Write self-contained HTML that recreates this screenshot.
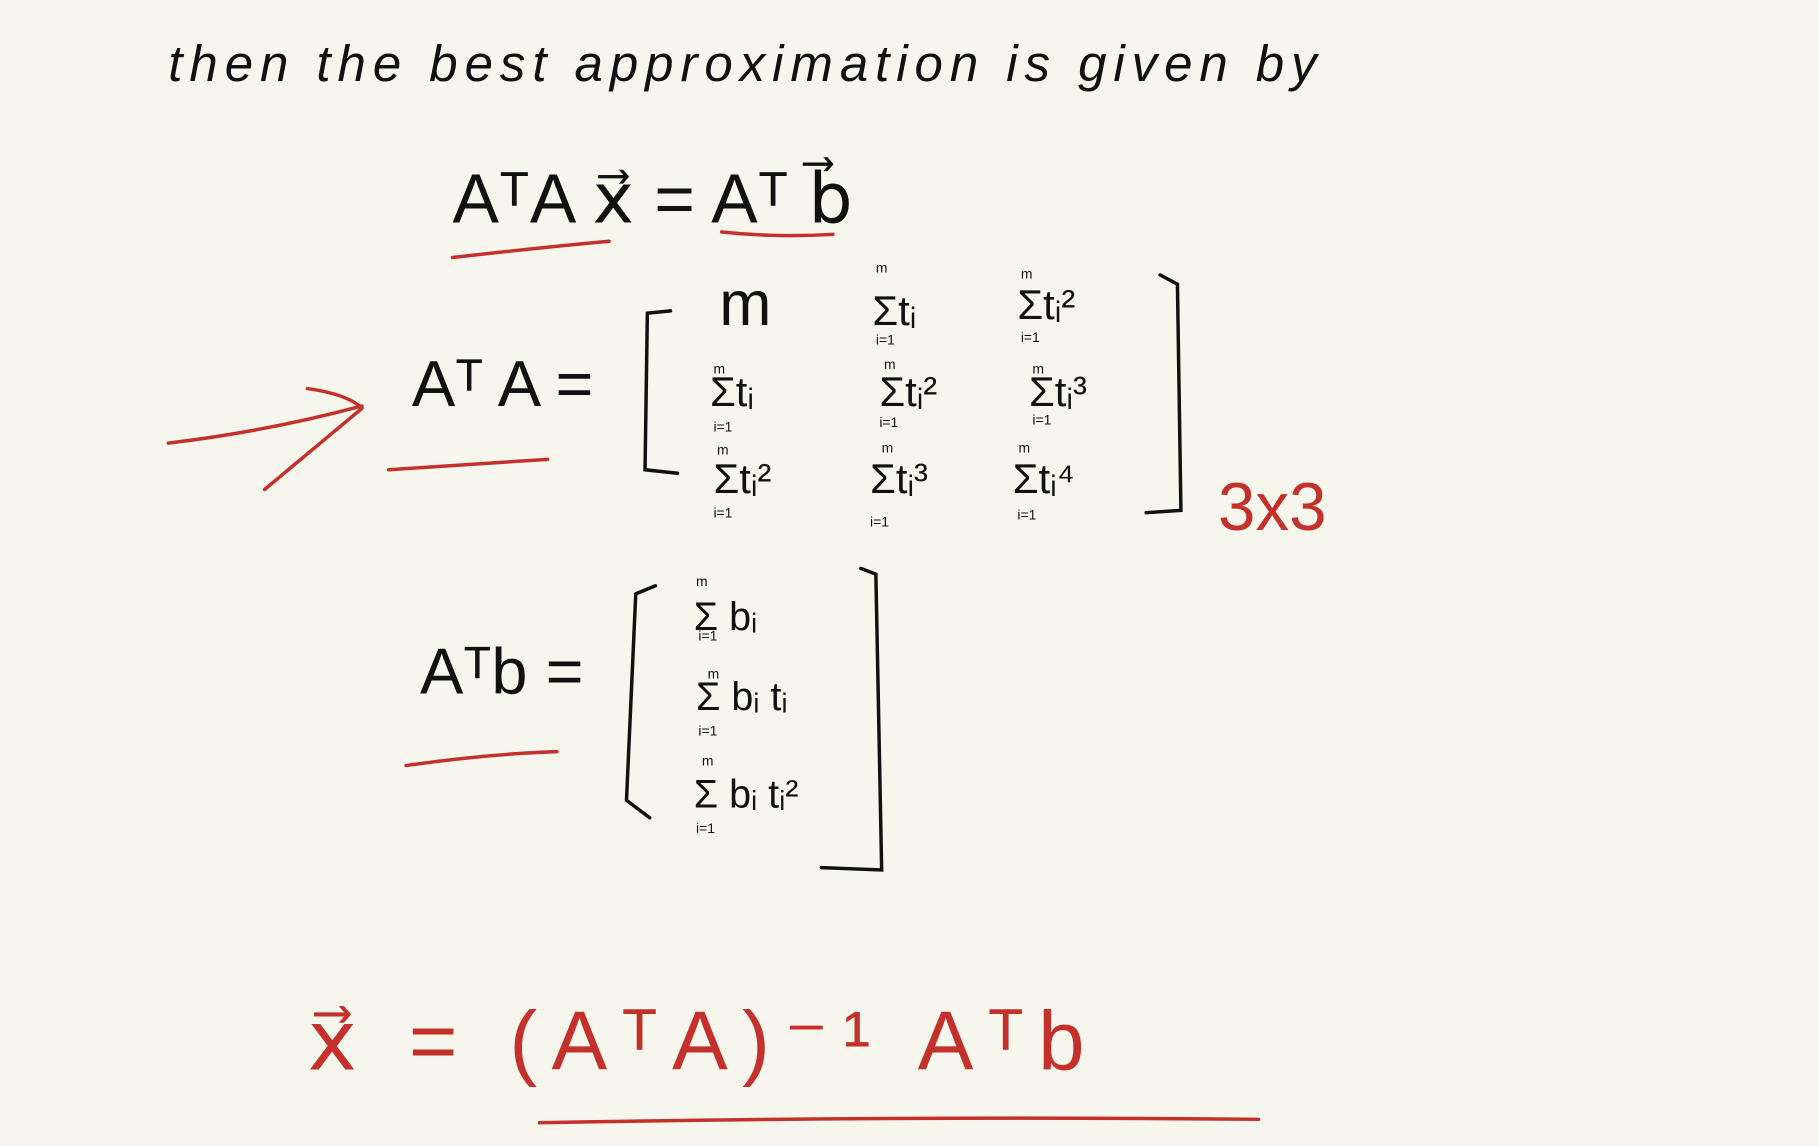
<!DOCTYPE html>
<html><head><meta charset="utf-8"><style>
html,body{margin:0;padding:0;background:#f6f6ec;}
svg{display:block}
text{font-family:"Liberation Sans",sans-serif;fill:#111}
.r{fill:#c4302b}
</style></head><body>
<svg width="1819" height="1146" viewBox="0 0 1568 988" xmlns="http://www.w3.org/2000/svg">
<rect width="1568" height="988" fill="#f6f6ec"/>
<text x="145" y="70" font-size="44" font-style="italic" font-family="Liberation Serif" textLength="990">then  the  best  approximation  is  given by</text>
<text x="390" y="192" font-size="60" textLength="345">AᵀA x⃗ = Aᵀ b⃗</text>
<g fill="none" stroke="#c4302b" stroke-width="3" stroke-linecap="round">
<path d="M390 222 Q460 214 525 208"/><path d="M622 200 Q670 205 718 202"/>
<path d="M335 405 L472 396"/>
<path d="M145 382 Q230 372 312 350 M228 422 L312 352 M265 335 Q300 340 312 352"/>
<path d="M350 660 Q420 650 480 648"/>
<path d="M465 968 Q780 962 1085 965"/>
</g>
<text x="355" y="350" font-size="56">Aᵀ A =</text>
<g fill="none" stroke="#111" stroke-width="3" stroke-linecap="round">
<path d="M578 268 L558 270 L556 405 L584 408"/>
<path d="M1000 237 L1015 245 L1018 440 L988 442"/>
<path d="M565 505 L548 512 L540 690 L560 705"/>
<path d="M742 490 L755 495 L760 750 L708 748"/>
</g>
<g font-size="36">
<text x="620" y="280" font-size="54">m</text>
<text x="752" y="280">Σtᵢ</text>
<text x="877" y="275">Σtᵢ²</text>
<text x="612" y="350">Σtᵢ</text>
<text x="758" y="350">Σtᵢ²</text>
<text x="887" y="350">Σtᵢ³</text>
<text x="615" y="425">Σtᵢ²</text>
<text x="750" y="425">Σtᵢ³</text>
<text x="873" y="425">Σtᵢ⁴</text>
</g>
<g font-size="12">
<text x="755" y="235">m</text><text x="755" y="297">i=1</text>
<text x="880" y="240">m</text><text x="880" y="295">i=1</text>
<text x="615" y="322">m</text><text x="615" y="372">i=1</text>
<text x="762" y="318">m</text><text x="758" y="368">i=1</text>
<text x="890" y="322">m</text><text x="890" y="366">i=1</text>
<text x="618" y="392">m</text><text x="615" y="446">i=1</text>
<text x="760" y="390">m</text><text x="750" y="454">i=1</text>
<text x="878" y="390">m</text><text x="877" y="448">i=1</text>
<text x="600" y="505">m</text><text x="602" y="552">i=1</text>
<text x="610" y="585">m</text><text x="602" y="634">i=1</text>
<text x="605" y="660">m</text><text x="600" y="718">i=1</text>
</g>
<text x="1050" y="457" font-size="58" class="r">3x3</text>
<text x="362" y="598" font-size="56">Aᵀb =</text>
<g font-size="34">
<text x="598" y="543">Σ bᵢ</text>
<text x="600" y="612">Σ bᵢ tᵢ</text>
<text x="598" y="696">Σ bᵢ tᵢ²</text>
</g>
<text x="265" y="922" font-size="72" class="r" textLength="670">x⃗  =  (AᵀA)⁻¹ Aᵀb</text>
</svg>
</body></html>
